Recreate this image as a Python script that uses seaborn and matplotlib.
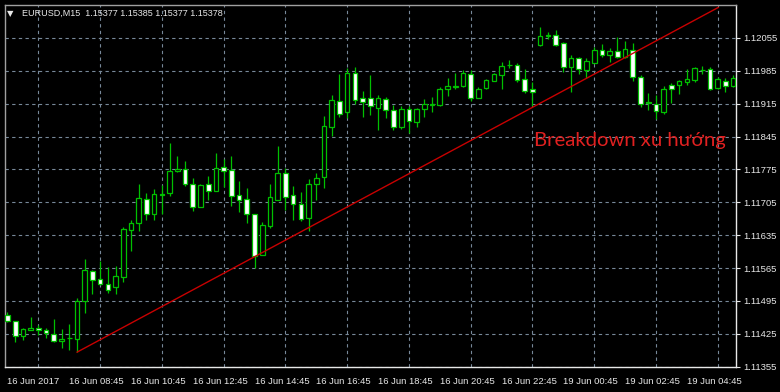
import matplotlib
matplotlib.use("Agg")
import matplotlib.pyplot as plt
import seaborn as sns
import numpy as np
import pandas as pd

# ---------------- data ----------------
opens = [1.11466, 1.11452, 1.11421, 1.11434, 1.11438, 1.11433, 1.11424, 1.11409, 1.11417, 1.11414,
         1.11496, 1.11559, 1.11542, 1.11531, 1.11524, 1.11547, 1.11647, 1.11661, 1.11712, 1.11680,
         1.11723, 1.11724, 1.11771, 1.11775, 1.11743, 1.11696, 1.11745, 1.11730, 1.11780, 1.11773,
         1.11721, 1.11713, 1.11680, 1.11593, 1.11655, 1.11710, 1.11767, 1.11721, 1.11701, 1.11672,
         1.11743, 1.11759, 1.11866, 1.11921, 1.11897, 1.11980, 1.11928, 1.11928, 1.11906, 1.11924,
         1.11902, 1.11865, 1.11903, 1.11876, 1.11903, 1.11912, 1.11913, 1.11946, 1.11951, 1.11953,
         1.11979, 1.11928, 1.11948, 1.11964, 1.11977, 1.11997, 1.11998, 1.11968, 1.11947, 1.12039,
         1.12060, 1.12062, 1.12044, 1.11994, 1.12013, 1.11986, 1.12002, 1.12030, 1.12019, 1.12027,
         1.12015, 1.12030, 1.11971, 1.11918, 1.11914, 1.11898, 1.11954, 1.11954, 1.11962, 1.11965,
         1.11986, 1.11988, 1.11949, 1.11964, 1.11952]
highs = [1.11471, 1.11453, 1.11438, 1.11460, 1.11444, 1.11437, 1.11456, 1.11435, 1.11447, 1.11501,
         1.11584, 1.11561, 1.11581, 1.11567, 1.11570, 1.11653, 1.11668, 1.11744, 1.11725, 1.11733,
         1.11742, 1.11832, 1.11803, 1.11793, 1.11757, 1.11743, 1.11761, 1.11810, 1.11798, 1.11803,
         1.11750, 1.11735, 1.11680, 1.11663, 1.11744, 1.11824, 1.11779, 1.11740, 1.11726, 1.11754,
         1.11767, 1.11889, 1.11933, 1.11978, 1.11990, 1.11992, 1.11941, 1.11977, 1.11933, 1.11930,
         1.11912, 1.11909, 1.11909, 1.11906, 1.11925, 1.11929, 1.11950, 1.11969, 1.11980, 1.11987,
         1.11986, 1.11950, 1.11968, 1.11981, 1.12003, 1.12007, 1.12001, 1.11989, 1.11961, 1.12079,
         1.12067, 1.12071, 1.12046, 1.12018, 1.12014, 1.12013, 1.12035, 1.12043, 1.12034, 1.12057,
         1.12049, 1.12045, 1.11977, 1.11938, 1.11933, 1.11953, 1.11958, 1.11965, 1.11988, 1.11994,
         1.11995, 1.11994, 1.11972, 1.11969, 1.11976]
lows = [1.11450, 1.11408, 1.11413, 1.11433, 1.11423, 1.11416, 1.11407, 1.11396, 1.11391, 1.11386,
        1.11469, 1.11509, 1.11529, 1.11511, 1.11509, 1.11535, 1.11602, 1.11643, 1.11668, 1.11667,
        1.11680, 1.11719, 1.11770, 1.11740, 1.11687, 1.11694, 1.11709, 1.11729, 1.11738, 1.11698,
        1.11685, 1.11662, 1.11566, 1.11592, 1.11651, 1.11709, 1.11689, 1.11668, 1.11666, 1.11645,
        1.11710, 1.11736, 1.11846, 1.11887, 1.11884, 1.11914, 1.11887, 1.11891, 1.11859, 1.11884,
        1.11859, 1.11862, 1.11852, 1.11865, 1.11886, 1.11898, 1.11911, 1.11932, 1.11946, 1.11951,
        1.11920, 1.11927, 1.11947, 1.11964, 1.11947, 1.11991, 1.11961, 1.11938, 1.11909, 1.12038,
        1.12053, 1.12038, 1.11982, 1.11940, 1.11979, 1.11970, 1.12001, 1.12014, 1.12003, 1.12013,
        1.12013, 1.11964, 1.11908, 1.11901, 1.11883, 1.11892, 1.11917, 1.11935, 1.11954, 1.11962,
        1.11978, 1.11945, 1.11947, 1.11940, 1.11951]
closes = [1.11452, 1.11421, 1.11436, 1.11437, 1.11434, 1.11427, 1.11409, 1.11415, 1.11416, 1.11496,
          1.11561, 1.11540, 1.11532, 1.11519, 1.11549, 1.11649, 1.11661, 1.11714, 1.11680, 1.11722,
          1.11721, 1.11772, 1.11776, 1.11743, 1.11694, 1.11742, 1.11730, 1.11777, 1.11771, 1.11718,
          1.11710, 1.11680, 1.11591, 1.11656, 1.11717, 1.11768, 1.11716, 1.11701, 1.11670, 1.11744,
          1.11757, 1.11868, 1.11922, 1.11894, 1.11980, 1.11922, 1.11919, 1.11909, 1.11926, 1.11901,
          1.11866, 1.11903, 1.11879, 1.11903, 1.11914, 1.11914, 1.11946, 1.11953, 1.11952, 1.11980,
          1.11927, 1.11947, 1.11966, 1.11979, 1.11995, 1.11998, 1.11966, 1.11942, 1.11939, 1.12060,
          1.12061, 1.12040, 1.11993, 1.12013, 1.11989, 1.12005, 1.12030, 1.12019, 1.12028, 1.12014,
          1.12032, 1.11971, 1.11915, 1.11917, 1.11899, 1.11947, 1.11947, 1.11963, 1.11967, 1.11990,
          1.11987, 1.11947, 1.11967, 1.11952, 1.11969]

tick_bars = [0, 8, 16, 24, 32, 40, 48, 56, 64, 72, 80, 88]
tick_labels = ["16 Jun 2017", "16 Jun 08:45", "16 Jun 10:45", "16 Jun 12:45", "16 Jun 14:45",
               "16 Jun 16:45", "16 Jun 18:45", "16 Jun 20:45", "16 Jun 22:45",
               "19 Jun 00:45", "19 Jun 02:45", "19 Jun 04:45"]
price_ticks = [1.11355, 1.11425, 1.11495, 1.11565, 1.11635, 1.11705,
               1.11775, 1.11845, 1.11915, 1.11985, 1.12055]
trend_bars = [9.0, 92.1]
trend_prices = [1.11386, 1.12120]

header = "EURUSD,M15  1.15377 1.15385 1.15377 1.15378"
note = "Breakdown xu hướng"

# ---------------- style ----------------
sns.set_style("dark", {"axes.facecolor": "black", "figure.facecolor": "black"})
plt.rcParams["font.family"] = ["Liberation Sans", "DejaVu Sans"]

GREEN = "#00c000"
GRID = "#778899"
FG = "#e8e8e8"

df = pd.DataFrame({"bar": np.arange(len(opens)), "open": opens, "high": highs,
                   "low": lows, "close": closes})
df["bull"] = df["close"] >= df["open"]

fig = plt.figure(figsize=(7.8, 3.92), dpi=100, facecolor="black")
ax = fig.add_axes([5 / 780, 25 / 392, 731 / 780, 362 / 392])
ax.set_facecolor("black")

# grid
ax.set_xlim(-0.32, 94.37)
ax.set_ylim(1.113545, 1.12125)
ax.set_yticks(price_ticks)
ax.set_yticklabels([f"{p:.5f}" for p in price_ticks])
ax.set_xticks(tick_bars)
ax.set_xticklabels(tick_labels, ha="left")
ax.set_xticks(np.arange(4, 95, 4), minor=True)
ax.grid(False)
ax.xaxis.grid(True, which="minor", color=GRID, linestyle=(0, (3, 3)), linewidth=0.8)
ax.yaxis.grid(True, which="major", color=GRID, linestyle=(0, (3, 3)), linewidth=0.8)
ax.set_axisbelow(True)

ax.yaxis.tick_right()
ax.tick_params(axis="y", which="major", direction="out", length=3, width=0.8, color=FG,
               labelcolor=FG, labelsize=6.8, pad=2, right=True, left=False)
ax.tick_params(axis="x", which="major", direction="out", length=4, width=0.8, color=FG,
               labelcolor=FG, labelsize=6.8, pad=3)
ax.tick_params(axis="x", which="minor", length=0)
for lab in ax.get_xticklabels():
    lab.set_horizontalalignment("left")

for side in ["top", "left"]:
    ax.spines[side].set_color("#a0a0a0")
    ax.spines[side].set_linewidth(1.0)
for side in ["right", "bottom"]:
    ax.spines[side].set_color(FG)
    ax.spines[side].set_linewidth(1.0)

# wicks
ax.vlines(df["bar"], df["low"], df["high"], color=GREEN, linewidth=0.9, zorder=3)
# bodies
body_bottom = df[["open", "close"]].min(axis=1)
body_height = (df["close"] - df["open"]).abs()
face = np.where(df["bull"], "black", "white")
ax.bar(df["bar"], body_height, bottom=body_bottom, width=0.6, color=face,
       edgecolor=GREEN, linewidth=0.9, zorder=4)

# trend line
trend = pd.DataFrame({"bar": trend_bars, "price": trend_prices})
sns.lineplot(data=trend, x="bar", y="price", ax=ax, color="#c80000", linewidth=1.0,
             zorder=5, clip_on=True)
ax.set_xlabel("")
ax.set_ylabel("")

# header and annotation
ax.text(0.003, 0.977, "▼", transform=ax.transAxes, color=FG, fontsize=6,
        family=["DejaVu Sans"], va="center", ha="left")
ax.text(0.023, 0.977, header, transform=ax.transAxes, color=FG, fontsize=6.5,
        va="center", ha="left")
ax.text(0.986, 0.626, note, transform=ax.transAxes, color="#e02020", fontsize=14.6,
        family=["Lato", "DejaVu Sans"], va="center", ha="right")

fig.savefig("out.png", dpi=100, facecolor="black")
